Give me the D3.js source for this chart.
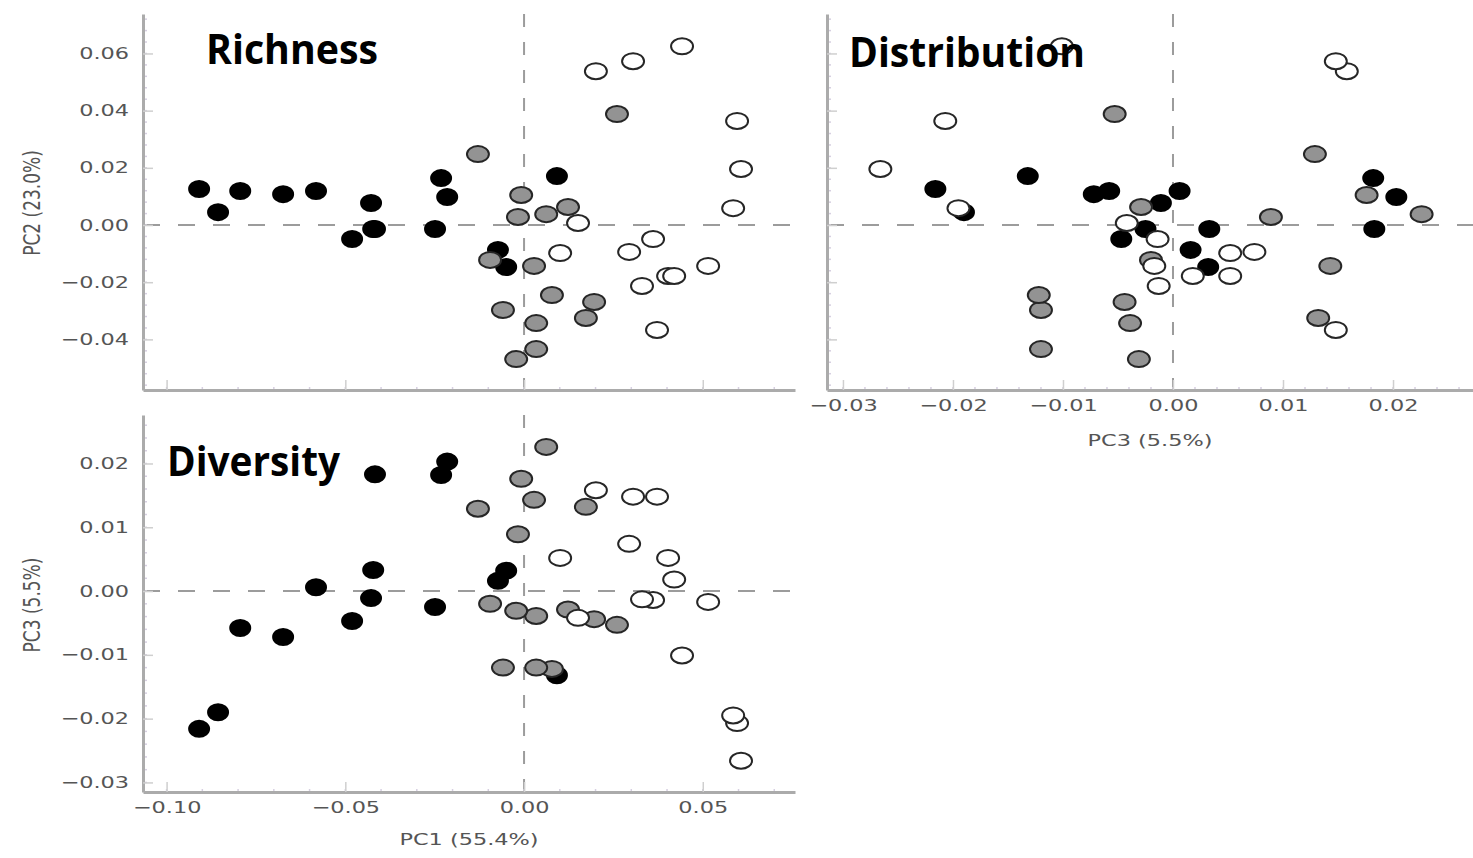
<!DOCTYPE html>
<html>
<head>
<meta charset="utf-8">
<script src="https://cdn.jsdelivr.net/npm/d3@7"></script>
<style>
  body { margin: 0; background: #fff; }
</style>
</head>
<body>
<svg id="chart"></svg>
<script>
// PCA scores, one value per sample
const pc1Black = [-0.0909, -0.0856, -0.0794, -0.0674, -0.0582, -0.0481, -0.0428, -0.0422, -0.0417, -0.0249, -0.0232, -0.0215, -0.0073, -0.0050, 0.0092];
const pc2Black = [0.0126, 0.0045, 0.0119, 0.0108, 0.0119, -0.0049, 0.0077, -0.0014, -0.0014, -0.0014, 0.0164, 0.0098, -0.0087, -0.0147, 0.0171];
const pc3Black = [-0.0216, -0.0190, -0.0058, -0.0072, 0.0006, -0.0047, -0.0011, 0.0033, 0.0183, -0.0025, 0.0182, 0.0203, 0.0016, 0.0032, -0.0132];

const pc1Gray = [-0.0129, 0.0260, -0.0008, -0.0017, 0.0062, 0.0123, -0.0095, 0.0028, -0.0059, 0.0078, 0.0196, 0.0173, 0.0034, 0.0034, -0.0022];
const pc2Gray = [0.0248, 0.0388, 0.0105, 0.0028, 0.0038, 0.0063, -0.0122, -0.0143, -0.0297, -0.0245, -0.0269, -0.0325, -0.0343, -0.0434, -0.0469];
const pc3Gray = [0.0129, -0.0053, 0.0176, 0.0089, 0.0226, -0.0029, -0.0020, 0.0143, -0.0120, -0.0122, -0.0044, 0.0132, -0.0039, -0.0120, -0.0031];

const pc1White = [0.0201, 0.0305, 0.0442, 0.0596, 0.0607, 0.0585, 0.0151, 0.0101, 0.0294, 0.0361, 0.0515, 0.0330, 0.0403, 0.0420, 0.0372];
const pc2White = [0.0538, 0.0573, 0.0625, 0.0364, 0.0196, 0.0059, 0.0007, -0.0098, -0.0094, -0.0049, -0.0143, -0.0213, -0.0178, -0.0178, -0.0367];
const pc3White = [0.0158, 0.0148, -0.0101, -0.0207, -0.0266, -0.0195, -0.0042, 0.0052, 0.0074, -0.0014, -0.0017, -0.0013, 0.0052, 0.0018, 0.0148];

// tick values
const pc1Ticks = [-0.10, -0.05, 0.00, 0.05];
const pc2Ticks = [-0.04, -0.02, 0.00, 0.02, 0.04, 0.06];
const pc3Ticks = [-0.03, -0.02, -0.01, 0.00, 0.01, 0.02];

const width = 1473;
const height = 858;

const svg = d3.select("#chart")
    .attr("width", width)
    .attr("height", height);

const fmt = d3.format(".2f");
const stretch = 1.4; // the source picture is stretched sideways

// samples as [pc1, pc2, pc3]
const groups = [
    { fill: "#000", stroke: "#000", rx: 10, pts: pc1Black.map((v, i) => [v, pc2Black[i], pc3Black[i]]) },
    { fill: "#939393", stroke: "#262626", rx: 11, pts: pc1Gray.map((v, i) => [v, pc2Gray[i], pc3Gray[i]]) },
    { fill: "#fff", stroke: "#262626", rx: 11, pts: pc1White.map((v, i) => [v, pc2White[i], pc3White[i]]) }
];

const panels = [
    {
        title: "Richness", tx: 206, ty: 64, tw: 172,
        xKey: 0, yKey: 1,
        xRange: [143, 795], yRange: [390, 14],
        xDomain: [-0.1066, 0.0758], yDomain: [-0.0577, 0.0738],
        xTicks: pc1Ticks, yTicks: pc2Ticks,
        xLabels: false, yLabels: true,
        yTitle: "PC2 (23.0%)", yTitleY: 203
    },
    {
        title: "Distribution", tx: 849, ty: 67, tw: 236,
        xKey: 2, yKey: 1,
        xRange: [827, 1473], yRange: [390, 14],
        xDomain: [-0.03145, 0.02727], yDomain: [-0.0577, 0.0738],
        xTicks: pc3Ticks, yTicks: pc2Ticks,
        xLabels: true, yLabels: false,
        xTitle: "PC3 (5.5%)", xTitleY: 446
    },
    {
        title: "Diversity", tx: 167, ty: 476, tw: 173,
        xKey: 0, yKey: 2,
        xRange: [143, 795], yRange: [792, 415],
        xDomain: [-0.1066, 0.0758], yDomain: [-0.0315, 0.0276],
        xTicks: pc1Ticks, yTicks: pc3Ticks,
        xLabels: true, yLabels: true,
        xTitle: "PC1 (55.4%)", xTitleY: 845,
        yTitle: "PC3 (5.5%)", yTitleY: 605
    }
];

function styleAxis(g) {
    g.select(".domain").attr("stroke", "#ababab").attr("stroke-width", 3);
    g.selectAll(".tick line").attr("stroke", "#cfcfcf").attr("stroke-width", 1.5);
    g.selectAll(".tick text")
        .attr("fill", "#555")
        .style("font-family", "DejaVu Sans")
        .style("font-size", "16px");
}

function drawPanel(p) {
    const x = d3.scaleLinear().domain(p.xDomain).range(p.xRange);
    const y = d3.scaleLinear().domain(p.yDomain).range(p.yRange);
    const g = svg.append("g");

    // dashed zero lines
    g.append("line")
        .attr("x1", p.xRange[0]).attr("x2", p.xRange[1])
        .attr("y1", y(0)).attr("y2", y(0))
        .attr("stroke", "#9c9c9c").attr("stroke-width", 2)
        .attr("stroke-dasharray", "17,18");
    g.append("line")
        .attr("x1", x(0)).attr("x2", x(0))
        .attr("y1", p.yRange[1]).attr("y2", p.yRange[0])
        .attr("stroke", "#9c9c9c").attr("stroke-width", 2)
        .attr("stroke-dasharray", "13,15");

    // minor ticks
    const yStep = (p.yTicks[1] - p.yTicks[0]) / 5;
    const yMinor = d3.range(Math.ceil(p.yDomain[0] / yStep), Math.floor(p.yDomain[1] / yStep) + 1).map(k => k * yStep);
    g.selectAll(null).data(yMinor).enter().append("line")
        .attr("x1", p.xRange[0]).attr("x2", p.xRange[0] + 4)
        .attr("y1", d => y(d)).attr("y2", d => y(d))
        .attr("stroke", "#d6cfe0").attr("stroke-width", 1.5);
    const xStep = (p.xTicks[1] - p.xTicks[0]) / 5;
    const xMinor = d3.range(Math.ceil(p.xDomain[0] / xStep), Math.floor(p.xDomain[1] / xStep) + 1).map(k => k * xStep);
    g.selectAll(null).data(xMinor).enter().append("line")
        .attr("x1", d => x(d)).attr("x2", d => x(d))
        .attr("y1", p.yRange[0]).attr("y2", p.yRange[0] - 3)
        .attr("stroke", "#d6cfe0").attr("stroke-width", 1.5);

    // axes
    const xAxis = d3.axisBottom(x)
        .tickValues(p.xTicks)
        .tickFormat(fmt)
        .tickSizeInner(-10)
        .tickSizeOuter(0)
        .tickPadding(10);
    const gx = g.append("g")
        .attr("transform", `translate(0,${p.yRange[0]})`)
        .call(xAxis)
        .call(styleAxis);
    gx.selectAll(".tick text").attr("transform", `scale(${stretch},1)`);
    if (!p.xLabels) gx.selectAll(".tick text").remove();

    const yAxis = d3.axisLeft(y)
        .tickValues(p.yTicks)
        .tickFormat(fmt)
        .tickSizeInner(-10)
        .tickSizeOuter(0)
        .tickPadding(10);
    const gy = g.append("g")
        .attr("transform", `translate(${p.xRange[0]},0)`)
        .call(yAxis)
        .call(styleAxis);
    gy.selectAll(".tick text").attr("transform", `scale(${stretch},1)`);
    if (!p.yLabels) gy.selectAll(".tick text").remove();

    // axis titles
    if (p.xTitle) {
        g.append("text")
            .attr("transform", `translate(${(p.xRange[0] + p.xRange[1]) / 2},${p.xTitleY}) scale(${stretch},1)`)
            .attr("text-anchor", "middle")
            .attr("fill", "#555")
            .style("font-family", "DejaVu Sans")
            .style("font-size", "16px")
            .text(p.xTitle);
    }
    if (p.yTitle) {
        g.append("text")
            .attr("transform", `translate(40,${p.yTitleY}) scale(${stretch},1) rotate(-90)`)
            .attr("text-anchor", "middle")
            .attr("fill", "#555")
            .style("font-family", "DejaVu Sans")
            .style("font-size", "17px")
            .text(p.yTitle);
    }

    // points
    groups.forEach(function (grp) {
        g.selectAll(null)
            .data(grp.pts)
            .enter()
            .append("ellipse")
            .attr("cx", d => x(d[p.xKey]))
            .attr("cy", d => y(d[p.yKey]))
            .attr("rx", grp.rx)
            .attr("ry", 8)
            .attr("fill", grp.fill)
            .attr("stroke", grp.stroke)
            .attr("stroke-width", 2);
    });

    // panel title
    g.append("text")
        .attr("x", p.tx)
        .attr("y", p.ty)
        .attr("textLength", p.tw)
        .attr("lengthAdjust", "spacingAndGlyphs")
        .attr("fill", "#000")
        .style("font-family", "'Open Sans', sans-serif")
        .style("font-weight", "700")
        .style("font-size", "41px")
        .text(p.title);
}

panels.forEach(drawPanel);
</script>
</body>
</html>
